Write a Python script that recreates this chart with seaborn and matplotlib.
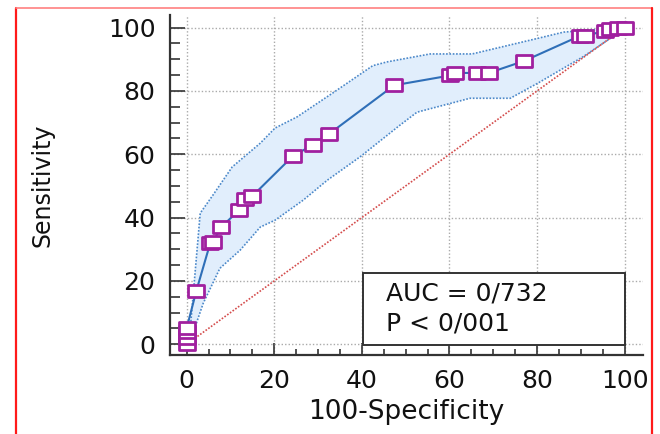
import numpy as np
import pandas as pd
import matplotlib
matplotlib.use("Agg")
import matplotlib.pyplot as plt
import seaborn as sns
from matplotlib.path import Path
from matplotlib.lines import Line2D
from matplotlib.patches import Rectangle
from matplotlib.ticker import MultipleLocator

# ---------------- data ----------------
roc_x = [0, 0, 0, 0, 2.2, 5.4, 6.0, 7.9, 12.0, 13.4, 15.0, 24.3, 28.9, 32.5,
         47.4, 60.2, 61.2, 66.4, 69.0, 77.1, 89.8, 91.0, 95.5, 96.7, 98.6, 100]
roc_y = [0, 2, 4, 5, 16.8, 32.0, 32.3, 37.0, 42.4, 45.9, 46.8, 59.5, 63.0, 66.4,
         81.8, 84.9, 85.7, 85.7, 85.7, 89.5, 97.4, 97.4, 99.0, 99.7, 100, 100]

upper_x = [0, 0.8, 3.1, 6.0, 10.4, 16.8, 20.2, 25.2, 33.4, 42.5, 45.8, 55.6,
           65.2, 80.1, 86.1, 98.3, 100]
upper_y = [0, 4.5, 41.4, 47.1, 56.0, 63.5, 68.3, 71.8, 79.4, 88.0, 89.2, 91.7,
           91.7, 96.6, 98.6, 99.9, 100]

lower_x = [0, 1.2, 3.8, 7.6, 12.2, 16.8, 20.2, 26.6, 32.1, 39.6, 48.7, 52.6,
           64.7, 73.9, 80.1, 90.5, 97.8, 99.6, 100]
lower_y = [0, 2.5, 13.0, 24.0, 29.7, 37.0, 39.2, 45.5, 51.8, 59.2, 69.2, 73.3,
           77.7, 77.7, 82.4, 90.8, 97.6, 98.3, 100]

diag_x = [0, 100]
diag_y = [0, 100]

x_ticks = [0, 20, 40, 60, 80, 100]
y_ticks = [0, 20, 40, 60, 80, 100]

auc_text = "AUC = 0/732"
p_text = "P < 0/001"
x_label = "100-Specificity"
y_label = "Sensitivity"

# ---------------- style ----------------
sns.set_style("white")
plt.rcParams["font.family"] = ["DejaVu Sans"]

fig = plt.figure(figsize=(6.6, 4.34), dpi=100)
ax = fig.add_axes([170 / 660, 79 / 434, 473 / 660, 340 / 434])

line_blue = "#2f6fb8"
ci_blue = "#4b88c9"
fill_blue = "#e1eefc"
purple = "#a0209f"

# confidence band fill
band_x = upper_x + lower_x[::-1]
band_y = upper_y + lower_y[::-1]
ax.fill(band_x, band_y, color=fill_blue, lw=0, zorder=1)

# CI dotted lines
sns.lineplot(x=upper_x, y=upper_y, ax=ax, sort=False, estimator=None,
             color=ci_blue, lw=1.2, linestyle=(0, (1, 1)), zorder=2)
sns.lineplot(x=lower_x, y=lower_y, ax=ax, sort=False, estimator=None,
             color=ci_blue, lw=1.2, linestyle=(0, (1, 1)), zorder=2)

# diagonal reference
sns.lineplot(x=diag_x, y=diag_y, ax=ax, sort=False, estimator=None,
             color="#d44c4c", lw=1.2, linestyle=(0, (1, 1)), zorder=2)

# ROC curve with rectangular open markers
rect = Path([(-1.45, -1), (1.45, -1), (1.45, 1), (-1.45, 1), (-1.45, -1)],
            [Path.MOVETO, Path.LINETO, Path.LINETO, Path.LINETO, Path.CLOSEPOLY])
sns.lineplot(x=roc_x, y=roc_y, ax=ax, sort=False, estimator=None,
             color=line_blue, lw=1.5, marker=rect, markersize=11.5,
             markerfacecolor="white", markeredgecolor=purple,
             markeredgewidth=2.0, zorder=4)

# annotation box
ax.add_patch(Rectangle((40.3, -0.25), 59.8, 22.75, facecolor="white",
                       edgecolor="#333333", lw=1.4, zorder=3))
ax.text(45.6, 13.8, auc_text, fontsize=18, va="baseline", ha="left",
        color="#111111", zorder=5)
ax.text(45.6, 4.3, p_text, fontsize=18, va="baseline", ha="left",
        color="#111111", zorder=5)

# axes limits / ticks
ax.set_xlim(-3.8, 104.2)
ax.set_ylim(-3.4, 104)
ax.set_xticks(x_ticks)
ax.set_yticks(y_ticks)
ax.set_xticklabels([str(t) for t in x_ticks])
ax.set_yticklabels([str(t) for t in y_ticks])
ax.xaxis.set_minor_locator(MultipleLocator(5))
ax.yaxis.set_minor_locator(MultipleLocator(5))
ax.tick_params(axis="x", which="major", direction="in", length=9, width=1.2,
               color="#333333", labelsize=18, pad=10, bottom=True)
ax.tick_params(axis="x", which="minor", direction="in", length=4, width=1.2,
               color="#333333", bottom=True)
ax.tick_params(axis="y", which="major", direction="in", length=11, width=1.2,
               color="#333333", labelsize=18, pad=10.5, left=True)
ax.tick_params(axis="y", which="minor", direction="in", length=7, width=1.2,
               color="#333333", left=True)
for lab in ax.get_xticklabels() + ax.get_yticklabels():
    lab.set_color("#111111")

ax.grid(True, which="major", color="#aaaaaa", linestyle=(0, (1, 1.5)), lw=1.0)
ax.set_axisbelow(True)

sns.despine(ax=ax)
for s in ["left", "bottom"]:
    ax.spines[s].set_linewidth(1.6)
    ax.spines[s].set_color("#333333")

ax.set_xlabel(x_label, fontsize=19, color="#111111")
ax.set_ylabel(y_label, fontsize=17, color="#111111")
ax.xaxis.set_label_coords(0.5, -0.13)
ax.yaxis.set_label_coords(-0.245, 0.5)

# red frame lines around the figure
fig.add_artist(Line2D([16 / 660, 16 / 660], [0, 1 - 8 / 434], color="#ff1a1a",
                      lw=1.6, transform=fig.transFigure))
fig.add_artist(Line2D([16 / 660, 652 / 660], [1 - 8 / 434, 1 - 8 / 434],
                      color="#ff8080", lw=1.2, transform=fig.transFigure))
fig.add_artist(Line2D([652 / 660, 652 / 660], [0, 1 - 8 / 434], color="#ff1a1a",
                      lw=1.6, transform=fig.transFigure))

fig.savefig("out.png", dpi=100)
